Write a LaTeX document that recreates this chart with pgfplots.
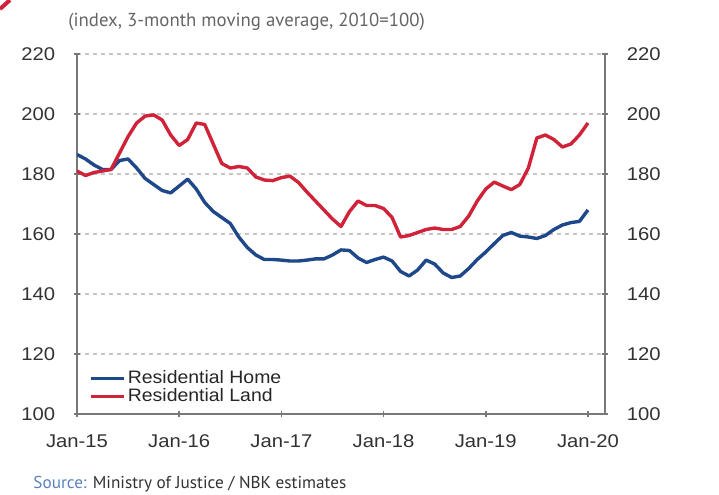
\documentclass[border=0pt]{standalone}
\usepackage{pgfplots}
\pgfplotsset{compat=1.18}
\usepackage{fontspec}
\setmainfont{Liberation Sans}
\newfontfamily\subfont{PT Sans}
\definecolor{homeblue}{RGB}{30,72,138}
\definecolor{landred}{RGB}{208,34,56}
\definecolor{axgray}{RGB}{120,120,120}
\definecolor{txtgray}{RGB}{50,50,50}
\definecolor{srcblue}{RGB}{90,130,190}

\begin{document}
\begin{tikzpicture}
\path[use as bounding box] (0,0) rectangle (359.5pt,247pt);
% small red fragment of the cut-off title, top left
\draw[landred, line width=2pt] (0pt,242.5pt) -- (5pt,247pt);
\node[anchor=west, font=\subfont\fontsize{9.4}{11}\selectfont, text=txtgray!75, inner sep=0pt]
  at (34pt,236pt) {(index, 3-month moving average, 2010=100)};
\node[anchor=base west, font=\subfont\fontsize{8.6}{10}\selectfont, text=txtgray, inner sep=0pt]
  at (16.5pt,3pt) {\textcolor{srcblue}{Source:} Ministry of Justice / NBK estimates};

\pgfplotsset{
  common/.style={
    scale only axis,
    width=264pt, height=180pt,
    at={(38.5pt,40pt)}, anchor=south west,
    xmin=0, xmax=62, ymin=100, ymax=220,
    ytick={100,120,...,220},
    xtick={0,12,24,36,48,60},
    tick align=outside,
    major tick length=3pt,
    tick style={axgray, line width=0.8pt},
    axis line style={axgray, line width=0.9pt},
    ticklabel style={font=\fontsize{9.2}{10}\selectfont, text=txtgray, xscale=1.1},
    /pgf/number format/assume math mode=true,
  }
}

\begin{axis}[
  common,
  axis x line=bottom,
  axis y line=left,
  x axis line style={-},
  y axis line style={-},
  xticklabels={Jan-15,Jan-16,Jan-17,Jan-18,Jan-19,Jan-20},
  xticklabel style={yshift=-5.5pt},
  yticklabel style={xshift=-5pt},
  ymajorgrids,
  grid style={gray!45, line width=0.7pt, dash pattern=on 2pt off 2pt},
  legend style={at={(0.023,0.02)}, anchor=south west, draw=none, fill=none,
    inner sep=0pt, font=\fontsize{9}{10}\selectfont, text=black!85,
    nodes={xscale=1.08, inner sep=1pt}, row sep=-1pt},
  legend cell align=left,
  legend image code/.code={\draw[#1, line width=1.6pt] (0pt,0pt) -- (16.5pt,0pt);},
]
\addplot[homeblue, line width=1.7pt, line join=round] coordinates {
(0,186.5) (1,185) (2,183) (3,181.5) (4,181.5) (5,184.5) (6,185) (7,182)
(8,178.5) (9,176.5) (10,174.5) (11,173.7) (12,176) (13,178.3) (14,175)
(15,170.5) (16,167.5) (17,165.5) (18,163.5) (19,159) (20,155.5) (21,153)
(22,151.5) (23,151.5) (24,151.3) (25,151) (26,151) (27,151.3) (28,151.7)
(29,151.7) (30,153) (31,154.7) (32,154.5) (33,152) (34,150.5) (35,151.5)
(36,152.3) (37,151) (38,147.5) (39,146) (40,148) (41,151.3) (42,150)
(43,147) (44,145.5) (45,146) (46,148.5) (47,151.5) (48,154) (49,156.8)
(50,159.5) (51,160.5) (52,159.3) (53,159) (54,158.5) (55,159.5) (56,161.5)
(57,163) (58,163.8) (59,164.2) (60,168)
};
\addlegendentry{Residential Home}
\addplot[landred, line width=1.7pt, line join=round] coordinates {
(0,181) (1,179.5) (2,180.5) (3,181) (4,181.5) (5,187) (6,192.5) (7,197)
(8,199.3) (9,199.7) (10,198) (11,193) (12,189.5) (13,191.5) (14,197)
(15,196.5) (16,190) (17,183.5) (18,182) (19,182.5) (20,182) (21,179)
(22,178) (23,177.8) (24,178.8) (25,179.3) (26,177.2) (27,174) (28,171)
(29,168) (30,165) (31,162.5) (32,167.5) (33,171) (34,169.5) (35,169.5)
(36,168.5) (37,165.5) (38,159) (39,159.5) (40,160.5) (41,161.5) (42,162)
(43,161.5) (44,161.5) (45,162.5) (46,166) (47,171) (48,175) (49,177.3)
(50,176) (51,174.8) (52,176.5) (53,182) (54,192) (55,193) (56,191.5)
(57,189) (58,190) (59,193) (60,197)
};
\addlegendentry{Residential Land}
\end{axis}

\begin{axis}[
  common,
  axis x line=none,
  axis y line=right,
  y axis line style={-},
  yticklabel style={xshift=5pt},
]
\addplot[draw=none] coordinates {(0,100)};
\end{axis}
\end{tikzpicture}
\end{document}
